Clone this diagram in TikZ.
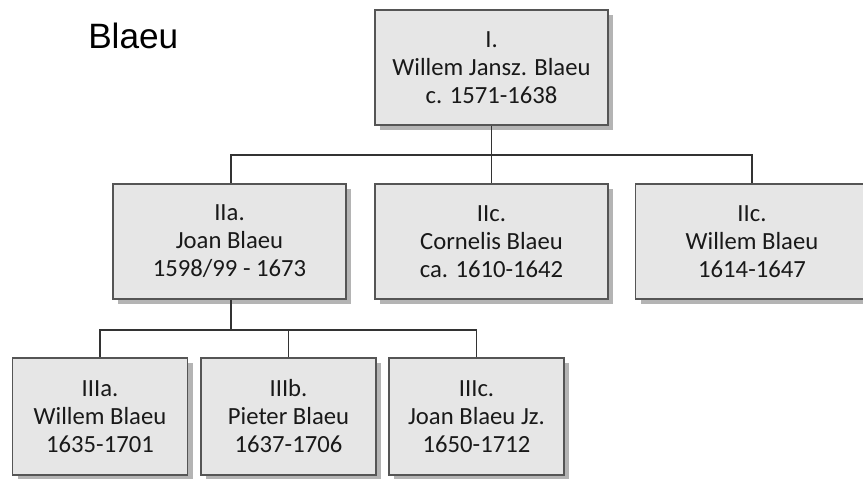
\documentclass[tikz,border=0pt]{standalone}
\usepackage{fontspec}
\setmainfont{Carlito}
\newfontfamily\titlefont{Liberation Sans}
\usetikzlibrary{shadows}

\definecolor{boxfill}{HTML}{E6E6E6}
\definecolor{boxline}{HTML}{555555}
\definecolor{shadowgray}{HTML}{B4B4B4}

\tikzset{
  person/.style={draw=boxline, line width=1pt, fill=boxfill, align=center,
    minimum width=233*0.75pt, minimum height=115*0.75pt, inner sep=0pt,
    font=\fontsize{18.5}{21}\selectfont, text=black!90,
    drop shadow={shadow xshift=4pt, shadow yshift=-4pt, fill=shadowgray, opacity=1}},
  child/.style={person, minimum width=175*0.75pt, minimum height=117*0.75pt},
  link/.style={draw=black!80, line width=1pt}
}

\begin{document}
\begin{tikzpicture}[x=0.75pt,y=0.75pt,yscale=-1,xscale=1]
\useasboundingbox (0,0) rectangle (863,478);

% Title
\node (title) at (88,49) [anchor=base west, inner sep=0pt] {\titlefont\fontsize{26.4}{30}\selectfont Blaeu};

% Generation I
\node (wjb) at (491.5,67.5) [person] {I.\\Willem Jansz. Blaeu\\c. 1571-1638};

% Generation II
\node (joan) at (229.5,241.5) [person] {IIa.\\Joan Blaeu\\1598/99 - 1673};
\node (corn) at (491.5,241.5) [person] {IIc.\\Cornelis Blaeu\\ca. 1610-1642};
\node (will) at (752,241.5) [person] {IIc.\\Willem Blaeu\\1614-1647};

% Generation III
\node (willj) at (100,416.5) [child] {IIIa.\\Willem Blaeu\\1635-1701};
\node (piet) at (288.5,416.5) [child] {IIIb.\\Pieter Blaeu\\1637-1706};
\node (joanj) at (476.5,416.5) [child] {IIIc.\\Joan Blaeu Jz.\\1650-1712};

% Connectors
\coordinate (bus1) at (491.5,155);
\coordinate (bus2) at (231,330);
\draw [link] (wjb.south) -- (bus1) -- (corn.north);
\draw [link] (joan.north -| bus2) |- (bus1) -| (will.north);
\draw [link] (joan.south -| bus2) -- (bus2);
\draw [link] (willj.north) |- (bus2) -| (joanj.north);
\draw [link] (piet.north) -- (piet.north |- bus2);

\end{tikzpicture}
\end{document}
